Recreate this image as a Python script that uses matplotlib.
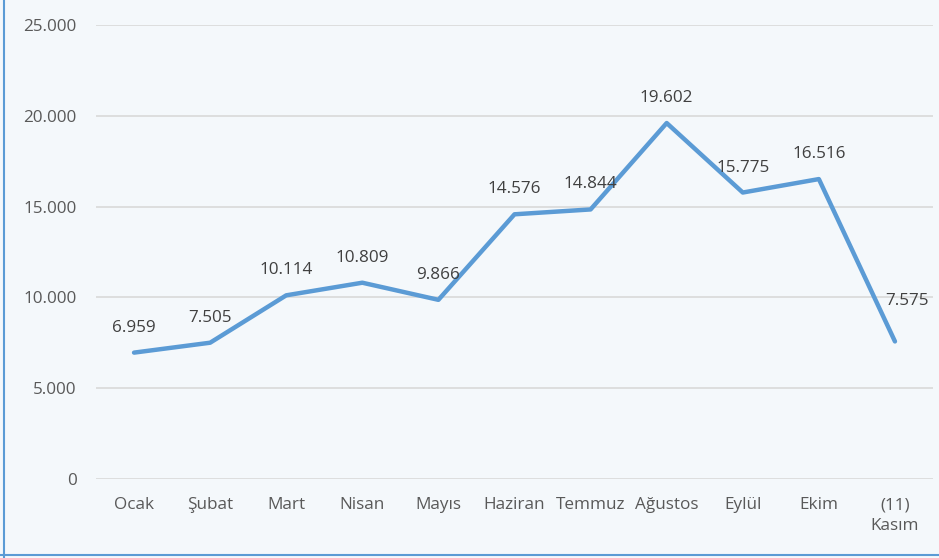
import matplotlib
matplotlib.use("Agg")
import matplotlib.pyplot as plt
from matplotlib.lines import Line2D

categories = ["Ocak", "Şubat", "Mart", "Nisan", "Mayıs", "Haziran", "Temmuz",
              "Ağustos", "Eylül", "Ekim", "(11)\nKasım"]
values = [6959, 7505, 10114, 10809, 9866, 14576, 14844, 19602, 15775, 16516, 7575]
labels = ["6.959", "7.505", "10.114", "10.809", "9.866", "14.576", "14.844",
          "19.602", "15.775", "16.516", "7.575"]
yticks = [0, 5000, 10000, 15000, 20000, 25000]
ytick_labels = ["0", "5.000", "10.000", "15.000", "20.000", "25.000"]

plt.rcParams['font.family'] = ['Open Sans', 'DejaVu Sans']
bg = "#F4F8FB"
txt = "#595959"
fs = 12.3

fig = plt.figure(figsize=(9.39, 5.58), dpi=100, facecolor=bg)
ax = fig.add_axes([96/939, 1-479/558, (933-96)/939, (479-25)/558], facecolor=bg)

x = list(range(len(categories)))
ax.plot(x, values, color="#5B9BD5", linewidth=3.2, solid_capstyle="round",
        solid_joinstyle="round", zorder=3)
for i, (v, l) in enumerate(zip(values, labels)):
    dx = 12 if i == len(values) - 1 else 0
    dy = 32 if i == len(values) - 1 else 17
    ax.annotate(l, (i, v), xytext=(dx, dy), textcoords="offset pixels",
                ha="center", va="bottom", fontsize=fs, color="#404040")

ax.set_xlim(-0.5, len(categories) - 0.5)
ax.set_ylim(0, 25000)
ax.set_yticks(yticks)
ax.set_yticklabels(ytick_labels)
ax.set_xticks(x)
ax.set_xticklabels(categories, linespacing=1.45)
ax.tick_params(axis="both", length=0, labelsize=fs, colors=txt)
ax.tick_params(axis="y", pad=14)
ax.tick_params(axis="x", pad=13)
ax.grid(axis="y", color="#D9D9D9", linewidth=1.2)
ax.set_axisbelow(True)
for s in ax.spines.values():
    s.set_visible(False)

# figure border (left and bottom visible in reference)
fig.add_artist(Line2D([4/939, 4/939], [0, 1], color="#5B9BD5", linewidth=1.5,
                      transform=fig.transFigure))
fig.add_artist(Line2D([0, 1], [3/558, 3/558], color="#5B9BD5", linewidth=1.5,
                      transform=fig.transFigure))

fig.savefig("out.png", dpi=100, facecolor=bg)
